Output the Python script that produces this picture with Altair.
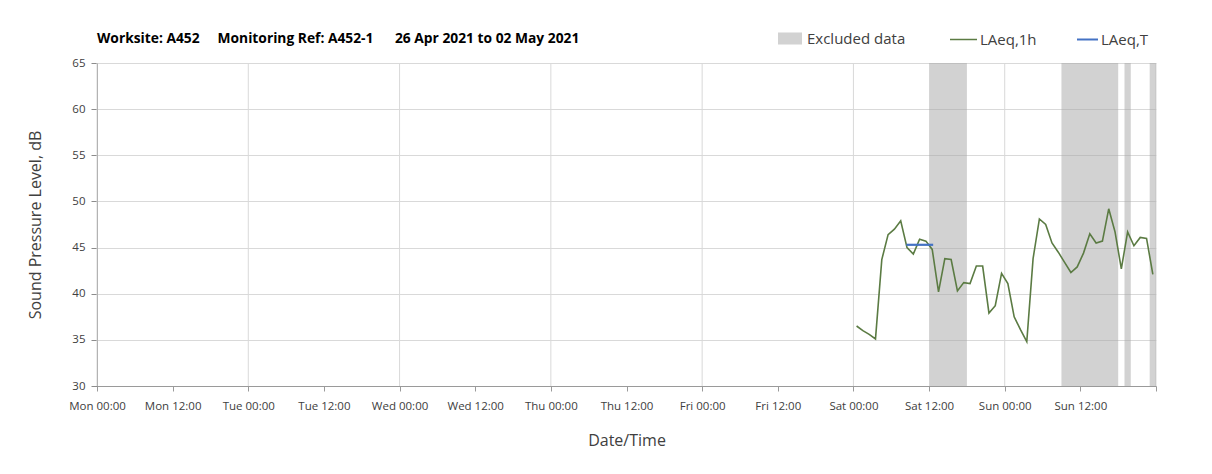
import altair as alt
import pandas as pd

# ---------------- data ----------------
title_text = ("Worksite: A452\u00a0\u00a0\u00a0\u00a0\u00a0Monitoring Ref: A452-1"
              "\u00a0\u00a0\u00a0\u00a0\u00a0\u00a026 Apr 2021 to 02 May 2021")

period_start = "2021-04-26 00:00"   # Mon 00:00
period_end = "2021-05-03 00:00"     # next Mon 00:00

# hourly LAeq,1h readings, first reading plotted at Sat 01 May 00:30
first_reading = "2021-05-01 00:30"
laeq_1h = [36.5, 36.0, 35.6, 35.1, 43.7, 46.4, 47.0, 47.9, 45.0, 44.3,
           45.9, 45.7, 44.8, 40.2, 43.8, 43.7, 40.3, 41.2, 41.1, 43.0,
           43.0, 37.9, 38.7, 42.2, 41.1, 37.5, 36.1, 34.8, 43.8, 48.1,
           47.5, 45.5, 44.5, 43.4, 42.3, 42.9, 44.4, 46.5, 45.5, 45.7,
           49.2, 46.7, 42.7, 46.7, 45.2, 46.1, 46.0, 42.1]

laeq_t_times = ["2021-05-01 08:24", "2021-05-01 12:39"]
laeq_t_values = [45.3, 45.3]

excl_start = ["2021-05-01 12:00", "2021-05-02 09:00", "2021-05-02 19:00", "2021-05-02 23:00"]
excl_end = ["2021-05-01 18:00", "2021-05-02 18:00", "2021-05-02 20:00", "2021-05-03 00:00"]

day_starts = ["2021-04-26", "2021-04-27", "2021-04-28", "2021-04-29",
              "2021-04-30", "2021-05-01", "2021-05-02", "2021-05-03"]

x_tick_labels = ["Mon 00:00", "Mon 12:00", "Tue 00:00", "Tue 12:00", "Wed 00:00",
                 "Wed 12:00", "Thu 00:00", "Thu 12:00", "Fri 00:00", "Fri 12:00",
                 "Sat 00:00", "Sat 12:00", "Sun 00:00", "Sun 12:00", ""]
x_tick_step_hours = 12

y_ticks = [30, 35, 40, 45, 50, 55, 60, 65]

series_names = ["Excluded data", "LAeq,1h", "LAeq,T"]
series_colors = ["#a6a6a6", "#5b7b43", "#4472c4"]

FONT = "Open Sans"

# ---------------- tables (time -> hours since period start) ----------------
t0 = pd.Timestamp(period_start)
t_end = pd.Timestamp(period_end)


def hours(values):
    return [(pd.Timestamp(v) - t0) / pd.Timedelta(hours=1) for v in values]


reading_times = pd.date_range(first_reading, periods=len(laeq_1h), freq="h")
df_1h = pd.DataFrame({"h": hours(reading_times), "v": laeq_1h, "series": series_names[1]})
df_t = pd.DataFrame({"h": hours(laeq_t_times), "v": laeq_t_values, "series": series_names[2]})
df_ex = pd.DataFrame({"h1": hours(excl_start), "h2": hours(excl_end), "series": series_names[0]})
df_days = pd.DataFrame({"h": hours(day_starts)})

x_max = (t_end - t0) / pd.Timedelta(hours=1)
x_values = [i * x_tick_step_hours for i in range(len(x_tick_labels))]
label_array = "[" + ",".join("'" + s + "'" for s in x_tick_labels) + "]"

x_scale = alt.Scale(domain=[0, x_max], nice=False, zero=False)
x_axis = alt.Axis(
    title="Date/Time",
    values=x_values,
    labelExpr=label_array + f"[round(datum.value / {x_tick_step_hours})]",
    grid=False,
    labelFlush=False,
    labelOverlap=False,
    labelPadding=9,
    titlePadding=21,
    domainColor="#9a9a9a",
    tickColor="#9a9a9a",
    tickSize=5,
)
y_scale = alt.Scale(domain=[30, 65], nice=False, zero=False)
y_axis = alt.Axis(
    title="Sound Pressure Level, dB",
    values=y_ticks,
    labelFlush=False,
    labelPadding=6,
    titlePadding=28,
    domainColor="#8c8c8c",
    tickColor="#8c8c8c",
    tickSize=6,
    gridColor="#d9d9d9",
)

common_legend = dict(orient="none", direction="horizontal",
                     labelFont=FONT, labelFontSize=15, labelColor="#404040")

day_grid = alt.Chart(df_days).mark_rule(color="#d9d9d9", strokeWidth=1).encode(
    x=alt.X("h:Q", scale=x_scale, axis=x_axis),
)

rects = alt.Chart(df_ex).mark_rect(opacity=0.5).encode(
    x=alt.X("h1:Q", scale=x_scale, axis=x_axis),
    x2="h2:Q",
    color=alt.Color("series:N", title="",
                    scale=alt.Scale(domain=[series_names[0]], range=[series_colors[0]]),
                    legend=alt.Legend(legendX=681, legendY=-36.5,
                                      symbolType="M-1,-0.5L1,-0.5L1,0.5L-1,0.5Z",
                                      symbolSize=576, symbolOpacity=0.5,
                                      symbolStrokeWidth=0,
                                      labelOffset=5,
                                      **common_legend)),
)

line_1h = alt.Chart(df_1h).mark_line(strokeWidth=1.6).encode(
    x=alt.X("h:Q", scale=x_scale, axis=x_axis),
    y=alt.Y("v:Q", scale=y_scale, axis=y_axis),
    color=alt.Color("series:N", title="",
                    scale=alt.Scale(domain=[series_names[1]], range=[series_colors[1]]),
                    legend=alt.Legend(legendX=852, legendY=-38,
                                      symbolType="stroke", symbolSize=729,
                                      symbolStrokeWidth=1.5, labelOffset=2,
                                      **common_legend)),
)

line_t = alt.Chart(df_t).mark_line(strokeWidth=2.2).encode(
    x=alt.X("h:Q", scale=x_scale, axis=x_axis),
    y=alt.Y("v:Q", scale=y_scale, axis=y_axis),
    color=alt.Color("series:N", title="",
                    scale=alt.Scale(domain=[series_names[2]], range=[series_colors[2]]),
                    legend=alt.Legend(legendX=979, legendY=-35,
                                      symbolType="stroke", symbolSize=441,
                                      symbolStrokeWidth=2, labelOffset=2,
                                      **common_legend)),
)

chart = alt.layer(day_grid, rects, line_1h, line_t).resolve_scale(color="independent").properties(
    width=1059,
    height=323,
    padding={"left": 19, "top": 17, "right": 5, "bottom": 5},
    title=alt.TitleParams(title_text, anchor="start", frame="group", font=FONT,
                          fontSize=13.8, fontWeight="bold", color="#000000", offset=-21),
).configure_view(stroke=None).configure_axis(
    labelFont=FONT, labelFontSize=11.5, labelColor="#404040",
    titleFont=FONT, titleFontSize=16, titleColor="#404040", titleFontWeight="normal",
)

chart.save("out.html", embed_options={"renderer": "svg", "actions": False})
